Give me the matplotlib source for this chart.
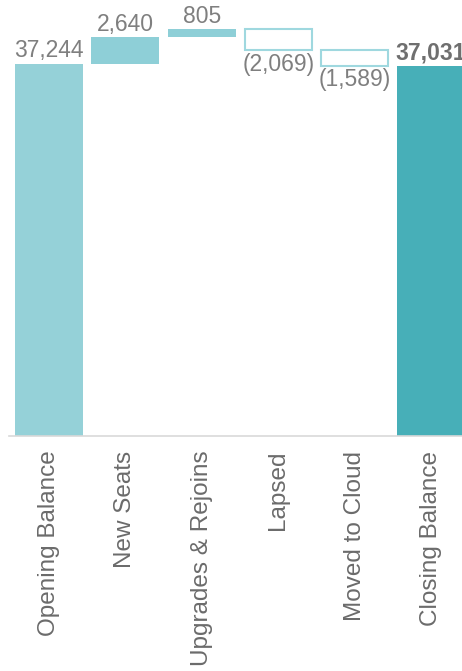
import numpy as np
import matplotlib
matplotlib.use("Agg")
import matplotlib.pyplot as plt

plt.rcParams['font.family'] = ['Liberation Sans', 'DejaVu Sans']

categories = ["Opening Balance", "New Seats", "Upgrades & Rejoins",
              "Lapsed", "Moved to Cloud", "Closing Balance"]
opening = 37244
changes = [2640, 805, -2069, -1589]
closing = 37031
labels = ["37,244", "2,640", "805", "(2,069)", "(1,589)", "37,031"]

# running totals for the floating bars
running = opening + np.cumsum(changes)
starts = np.concatenate([[opening], running[:-1]])
bottoms = np.minimum(starts, running)
heights = np.abs(changes)

fig = plt.figure(figsize=(4.62, 6.71), dpi=100)
ax = fig.add_axes([9 / 462, 235 / 671, 453 / 462, 430 / 671])

x = np.arange(len(categories))
w = 0.89
grey = "#7f7f7f"

ax.bar(x[0], opening, width=w, color="#95d1d8")
ax.bar(x[-1], closing, width=w, color="#47afb8")
for i, (b, h, c) in enumerate(zip(bottoms, heights, changes), start=1):
    if c > 0:
        ax.bar(x[i], h, bottom=b, width=w, color="#8ecfd7")
    else:
        ax.bar(x[i], h, bottom=b, width=w * 0.98, color="white",
               edgecolor="#9fd8df", linewidth=1.5)

# value labels
tops = [opening] + list(bottoms + heights) + [closing]
lows = [0] + list(bottoms) + [0]
for i, lab in enumerate(labels):
    if i in (3, 4):
        ax.annotate(lab, (x[i], lows[i]), xytext=(0, -2), textcoords="offset points",
                    ha="center", va="top", fontsize=16.5, color=grey)
    else:
        bold = i == len(labels) - 1
        ax.annotate(lab, (x[i], tops[i]), xytext=(0, 4.5), textcoords="offset points",
                    ha="center", va="baseline", fontsize=16.5,
                    color="#6f6f6f" if bold else grey,
                    fontweight="bold" if bold else "normal",
                    annotation_clip=False)

ax.set_xlim(-0.524, 5.405)
ax.set_ylim(0, 43000)
ax.set_xticks(x)
ax.set_xticklabels(categories, rotation=90, fontsize=17.5, color="#6b6b6b")
ax.tick_params(axis="x", length=0, pad=10.5)
ax.set_yticks([])
for s in ["top", "right", "left"]:
    ax.spines[s].set_visible(False)
ax.spines["bottom"].set_color("#d9d9d9")
ax.spines["bottom"].set_linewidth(1.2)

fig.savefig("out.png", dpi=100)
